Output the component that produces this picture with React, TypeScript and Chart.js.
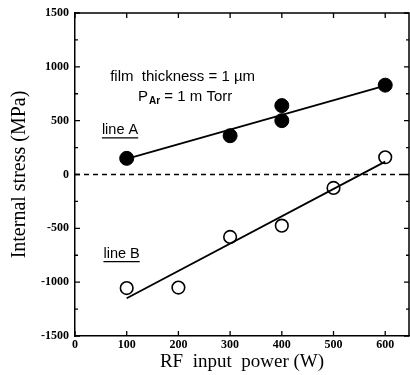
import React, { useEffect, useRef } from "react";
import { Chart, registerables } from "chart.js";

Chart.register(...registerables);

const powerA = [100, 300, 400, 400, 600];
const stressA = [150, 360, 640, 500, 830];
const powerB = [100, 200, 300, 400, 500, 600];
const stressB = [-1055, -1050, -580, -475, -125, 160];
const fitAX = [100, 600];
const fitAY = [145, 825];
const fitBX = [100, 600];
const fitBY = [-1150, 120];
const xTickValues = [0, 100, 200, 300, 400, 500, 600];
const yTickValues = [-1500, -1000, -500, 0, 500, 1000, 1500];
const yMinorValues = [-1250, -750, -250, 250, 750, 1250];

const pts = (xs: number[], ys: number[]) => xs.map((x, i) => ({ x, y: ys[i] }));

const SANS = "'Liberation Sans', Arial, sans-serif";

const decorPlugin = {
  id: "decor",
  afterDatasetsDraw(chart: any) {
    const { ctx, chartArea: a, scales } = chart;
    const xs = scales.x;
    const ys = scales.y;
    ctx.save();
    ctx.strokeStyle = "#000";
    ctx.lineWidth = 1.5;
    ctx.beginPath();
    ctx.moveTo(a.left, a.top);
    ctx.lineTo(a.right, a.top);
    ctx.lineTo(a.right, a.bottom);
    ctx.stroke();
    ctx.lineWidth = 1.3;
    ctx.beginPath();
    xTickValues.forEach((v) => {
      const px = xs.getPixelForValue(v);
      ctx.moveTo(px, a.bottom);
      ctx.lineTo(px, a.bottom - 5);
      ctx.moveTo(px, a.top);
      ctx.lineTo(px, a.top + 5);
    });
    yTickValues.forEach((v) => {
      const py = ys.getPixelForValue(v);
      ctx.moveTo(a.left, py);
      ctx.lineTo(a.left + 5, py);
      ctx.moveTo(a.right, py);
      ctx.lineTo(a.right - 5, py);
    });
    yMinorValues.forEach((v) => {
      const py = ys.getPixelForValue(v);
      ctx.moveTo(a.left, py);
      ctx.lineTo(a.left + 3, py);
      ctx.moveTo(a.right, py);
      ctx.lineTo(a.right - 3, py);
    });
    ctx.stroke();
    ctx.setLineDash([5, 4]);
    ctx.lineWidth = 1.3;
    const y0 = ys.getPixelForValue(0);
    ctx.beginPath();
    ctx.moveTo(a.left, y0);
    ctx.lineTo(a.right, y0);
    ctx.stroke();
    ctx.setLineDash([]);

    ctx.fillStyle = "#000";
    ctx.textBaseline = "middle";
    ctx.textAlign = "left";
    ctx.font = "15px " + SANS;
    ctx.fillText("film  thickness = 1 \u00b5m", xs.getPixelForValue(68), ys.getPixelForValue(905));
    const px0 = xs.getPixelForValue(122);
    const py0 = ys.getPixelForValue(718);
    ctx.fillText("P", px0, py0);
    const pw = ctx.measureText("P").width;
    ctx.font = "bold 10px " + SANS;
    ctx.fillText("Ar", px0 + pw + 1, py0 + 4);
    const aw = ctx.measureText("Ar").width;
    ctx.font = "15px " + SANS;
    ctx.fillText(" = 1 m Torr", px0 + pw + aw + 1, py0);

    const drawUnder = (t: string, xv: number, yv: number) => {
      const lx = xs.getPixelForValue(xv);
      const ly = ys.getPixelForValue(yv);
      ctx.font = "14.5px " + SANS;
      ctx.fillText(t, lx, ly);
      const w = ctx.measureText(t).width;
      ctx.lineWidth = 1.2;
      ctx.beginPath();
      ctx.moveTo(lx, ly + 7.5);
      ctx.lineTo(lx + w, ly + 7.5);
      ctx.stroke();
    };
    drawUnder("line A", 52, 410);
    drawUnder("line B", 55, -740);
    ctx.restore();
  },
};

export default function App() {
  const ref = useRef<HTMLCanvasElement>(null);
  useEffect(() => {
    document.body.style.margin = "0";
    const chart = new Chart(ref.current!, {
      type: "scatter",
      data: {
        datasets: [
          {
            type: "line",
            data: pts(fitAX, fitAY),
            borderColor: "#000",
            borderWidth: 1.8,
            pointRadius: 0,
            fill: false,
          },
          {
            type: "line",
            data: pts(fitBX, fitBY),
            borderColor: "#000",
            borderWidth: 1.8,
            pointRadius: 0,
            fill: false,
          },
          {
            data: pts(powerA, stressA),
            backgroundColor: "#000",
            borderColor: "#000",
            pointRadius: 7,
            borderWidth: 1,
          },
          {
            data: pts(powerB, stressB),
            backgroundColor: "#fff",
            borderColor: "#000",
            pointRadius: 6.3,
            borderWidth: 1.6,
          },
        ],
      },
      options: {
        animation: false,
        responsive: false,
        maintainAspectRatio: false,
        layout: { autoPadding: false, padding: { top: 13, right: 1, left: 0, bottom: 0 } },
        plugins: { legend: { display: false }, tooltip: { enabled: false } },
        scales: {
          x: {
            type: "linear",
            min: 0,
            max: 646,
            grid: { display: false, drawTicks: false },
            border: { display: true, color: "#000", width: 1.5 },
            afterBuildTicks: (s: any) => {
              s.ticks = xTickValues.map((v) => ({ value: v }));
            },
            afterFit: (s: any) => {
              s.height = 39;
              s.paddingRight = 0;
              s.paddingLeft = 0;
            },
            ticks: {
              color: "#000",
              padding: 2,
              maxRotation: 0,
              callback: (v: any) => String(v),
              font: { family: "'Liberation Serif', serif", size: 12, weight: "bold" },
            },
            title: {
              display: true,
              text: "RF  input  power (W)",
              color: "#000",
              padding: { top: 0, bottom: 2 },
              font: { family: "'Liberation Serif', serif", size: 19 },
            },
          },
          y: {
            type: "linear",
            min: -1500,
            max: 1500,
            grid: { display: false, drawTicks: false },
            border: { display: true, color: "#000", width: 1.5 },
            afterBuildTicks: (s: any) => {
              s.ticks = yTickValues.map((v) => ({ value: v }));
            },
            afterFit: (s: any) => {
              s.width = 75;
              s.paddingTop = 0;
              s.paddingBottom = 0;
            },
            ticks: {
              color: "#000",
              padding: 6,
              callback: (v: any) => String(v),
              font: { family: "'Liberation Serif', serif", size: 12, weight: "bold" },
            },
            title: {
              display: true,
              text: "Internal stress (MPa)",
              color: "#000",
              padding: { top: 8, bottom: 0 },
              font: { family: "'Liberation Serif', serif", size: 20 },
            },
          },
        },
      },
      plugins: [decorPlugin],
    } as any);
    return () => chart.destroy();
  }, []);
  return (
    <div style={{ position: "absolute", left: 0, top: 0, width: 410, height: 375 }}>
      <canvas ref={ref} width={410} height={375} style={{ width: 410, height: 375, display: "block" }} />
    </div>
  );
}
